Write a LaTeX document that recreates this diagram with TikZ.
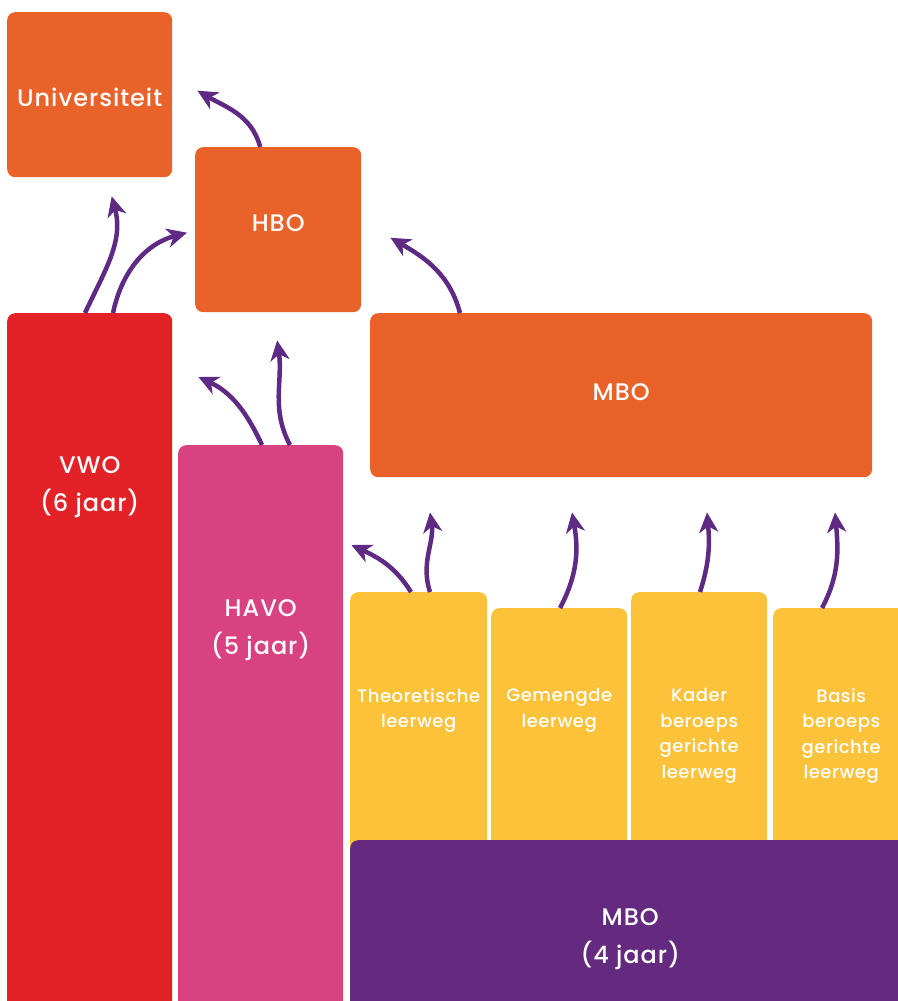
\documentclass[tikz,border=0pt]{standalone}
\usepackage{fontspec}
\setmainfont{Poppins Medium}
\usetikzlibrary{arrows.meta,positioning}
\definecolor{oranje}{HTML}{E9622A}
\definecolor{rood}{HTML}{E32227}
\definecolor{roze}{HTML}{D84281}
\definecolor{geel}{HTML}{FBC23A}
\definecolor{paars}{HTML}{632A80}
\definecolor{pijl}{HTML}{5F2A84}
\tikzset{
  blok/.style={anchor=north west, rounded corners=8pt, inner sep=0pt},
  tekst/.style={text=white, align=center, font=\fontsize{24}{38}\selectfont\addfontfeature{LetterSpace=4}},
  klein/.style={text=white, align=center, font=\fontsize{18}{25.5}\selectfont\addfontfeature{LetterSpace=3}},
  pad/.style={draw=pijl, line width=4.5pt, -{Stealth[length=20pt,width=19pt,inset=6pt]}}
}
\begin{document}
\begin{tikzpicture}[x=1pt, y=1pt]
    \useasboundingbox (0,-1001) rectangle (897,0);
    \node [blok, fill=oranje, minimum width=165, minimum height=165] (uni) at (7,-12) {};
    \node [blok, fill=oranje, minimum width=166, minimum height=165] (hbo) at (195,-147) {};
    \node [blok, fill=rood, minimum width=165, minimum height=700] (vwo) at (7,-313) {};
    \node [blok, fill=roze, minimum width=165, minimum height=570] (havo) at (178,-445) {};
    \node [blok, fill=oranje, minimum width=502, minimum height=164] (mbo) at (370,-313) {};
    \node [blok, fill=geel, minimum width=137, minimum height=300] (theo) at (350,-592) {};
    \node [blok, fill=geel, minimum width=136, minimum height=300] (gem) at (491,-608) {};
    \node [blok, fill=geel, minimum width=136, minimum height=300] (kader) at (631,-592) {};
    \node [blok, fill=geel, minimum width=140, minimum height=300] (basis) at (773,-608) {};
    \node [blok, fill=paars, minimum width=560, minimum height=200] (mbob) at (350,-840) {};
    % teksten
    \node [tekst] (tuni) at ([yshift=-3]uni.center) {Universiteit};
    \node [tekst] (thbo) at ([yshift=7]hbo.center) {HBO};
    \node [tekst] (tmbo) at ([yshift=3]mbo.center) {MBO};
    \node [tekst, below=174 of vwo.north, anchor=center] (tvwo) {VWO\\(6 jaar)};
    \node [tekst, below=185 of havo.north, anchor=center] (thavo) {HAVO\\(5 jaar)};
    \node [tekst, below=99 of mbob.north, anchor=center] (tmbob) {MBO\\(4 jaar)};
    \node [klein, anchor=north] (ttheo) at ([yshift=-93]theo.north) {Theoretische\\leerweg};
    \node [klein, anchor=north] (tgem) at ([yshift=-77]gem.north) {Gemengde\\leerweg};
    \node [klein, anchor=north] (tkader) at ([yshift=-93]kader.north) {Kader\\beroeps\\gerichte\\leerweg};
    \node [klein, anchor=north, xshift=-2] (tbasis) at ([yshift=-77]basis.north) {Basis\\beroeps\\gerichte\\leerweg};
    % pijlen
    \draw [pad] ([xshift=78]vwo.north west) to[out=65, in=-75] ([xshift=22, yshift=-19]uni.south);
    \draw [pad] ([xshift=106]vwo.north west) to[out=78, in=195] ([xshift=-8, yshift=-3]hbo.west);
    \draw [pad] ([xshift=-18]hbo.north) to[out=105, in=-30] ([xshift=25, yshift=4]uni.east);
    \draw [pad] ([xshift=84]havo.north west) to[out=115, in=-25] ([xshift=26, yshift=-64]vwo.north east);
    \draw [pad] ([xshift=112]havo.north west) to[out=118, in=-82] ([xshift=-1, yshift=-28]hbo.south);
    \draw [pad] ([xshift=90]mbo.north west) to[out=105, in=-30] ([xshift=29, yshift=-8]hbo.east);
    \draw [pad] ([xshift=61]theo.north west) to[out=122, in=-25] ([xshift=8, yshift=-100]havo.north east);
    \draw [pad] ([xshift=80]theo.north west) to[out=108, in=-82] ([xshift=60, yshift=-35]mbo.south west);
    \draw [pad] ([xshift=69]gem.north west) to[out=62, in=-80] ([xshift=202, yshift=-35]mbo.south west);
    \draw [pad] ([xshift=69]kader.north west) to[out=72, in=-85] ([xshift=337, yshift=-35]mbo.south west);
    \draw [pad] ([xshift=49]basis.north west) to[out=62, in=-85] ([xshift=465, yshift=-35]mbo.south west);
\end{tikzpicture}
\end{document}
